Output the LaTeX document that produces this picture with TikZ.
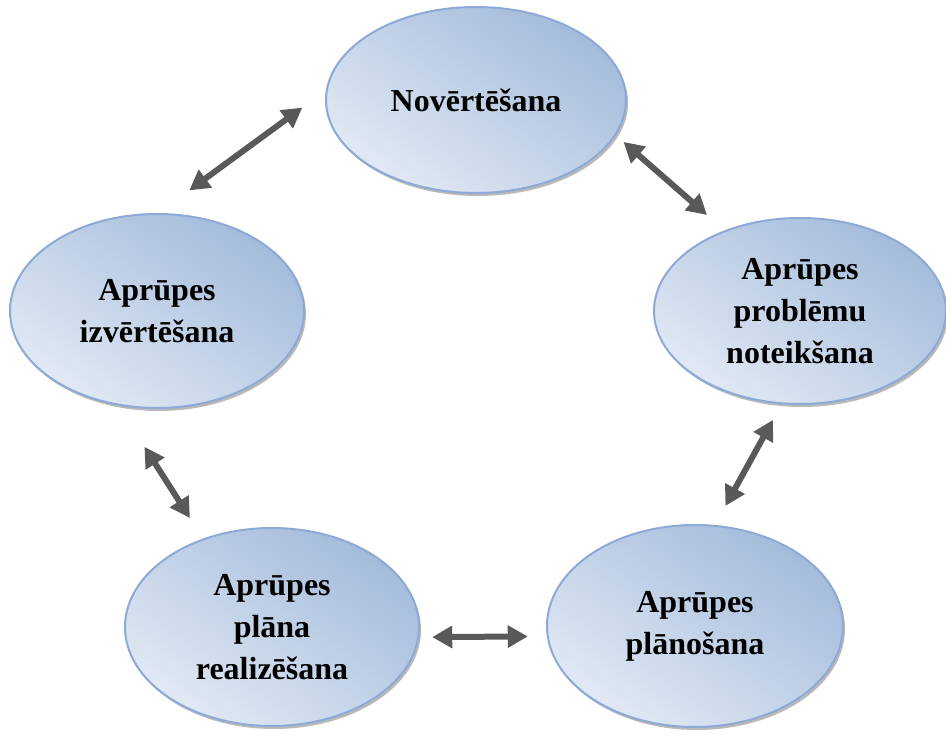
\documentclass[tikz,border=0pt]{standalone}
\usepackage{fontspec}
\setmainfont{Liberation Serif}
\usetikzlibrary{shapes.geometric,arrows.meta,shadows}

\newlength{\du}
\setlength{\du}{0.75pt}

\definecolor{ovalborder}{RGB}{141,169,214}
\definecolor{ovaldark}{RGB}{163,187,219}
\definecolor{ovallight}{RGB}{225,233,244}
\definecolor{arrowgray}{RGB}{89,89,89}

\tikzset{
  stage/.style={ellipse, draw=ovalborder, line width=2\du,
    inner sep=0pt, outer sep=0pt,
    top color=ovaldark, bottom color=ovallight, shading angle=-35,
    drop shadow={shadow xshift=2\du, shadow yshift=-3\du, fill=black!55, opacity=0.5},
    align=center, font=\fontsize{24}{31.5}\selectfont\bfseries},
  link/.style={draw=arrowgray, line width=6\du,
    {Triangle[length=15pt,width=16pt]}-{Triangle[length=15pt,width=16pt]}}
}

\begin{document}
\begin{tikzpicture}
\pgftransformyscale{-1.000000}
\useasboundingbox (0\du,0\du) rectangle (946\du,737\du);
% the five ovals
\node[stage, minimum width=300\du, minimum height=186\du] (nov) at (476\du,100\du) {Novērtēšana};
\node[stage, minimum width=292\du, minimum height=186\du] (probl) at (800\du,311\du) {Aprūpes\\problēmu\\noteikšana};
\node[stage, minimum width=296\du, minimum height=202\du] (plan) at (695\du,626\du) {Aprūpes\\plānošana};
\node[stage, minimum width=294\du, minimum height=198\du] (real) at (272\du,627\du) {Aprūpes\\plāna\\realizēšana};
\node[stage, minimum width=294\du, minimum height=194\du] (izv) at (157\du,311\du) {Aprūpes\\izvērtēšana};
% double arrows between them
\draw[link, shorten <=30.5\du, shorten >=40\du] (nov.176) -- (izv.90);
\draw[link, shorten <=11\du, shorten >=24.4\du] (nov.-14) -- (probl.133);
\draw[link, shorten <=19\du, shorten >=22.7\du] (probl.-101) -- (plan.79);
\draw[link, shorten <=20\du, shorten >=14\du] (plan.184) -- (real.-4);
\draw[link, shorten <=25.3\du, shorten >=50.3\du] (real.128) -- (izv.247);
\end{tikzpicture}
\end{document}
